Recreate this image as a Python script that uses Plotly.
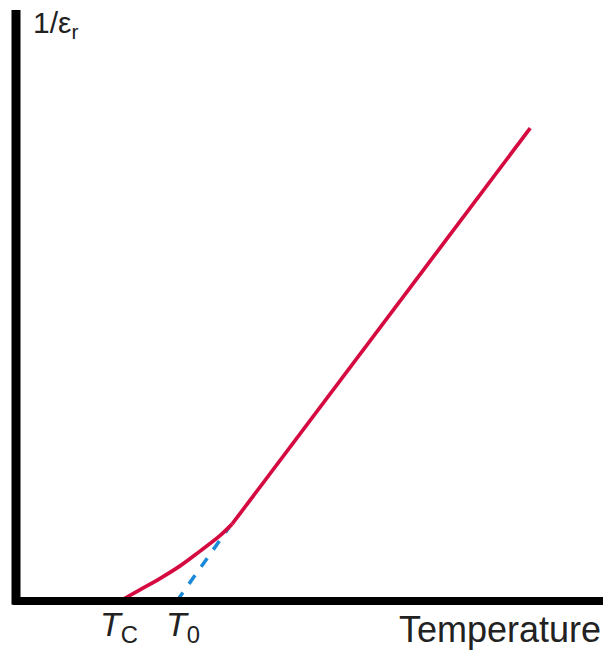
import plotly.graph_objects as go

# reciprocal permittivity vs temperature (arbitrary units)
# curved part just above T_C, then the straight Curie-Weiss part
curve_t = [17.7, 21.1, 24.5, 27.9, 31.3, 34.8, 36.8]
curve_inv_eps = [0.0, 1.9, 3.8, 5.9, 8.4, 11.1, 13.0]
line_t = [36.8, 87.6]
line_inv_eps = [13.0, 80.0]
# extrapolation of the straight part down to T_0
extrap_t = [27.4, 36.4]
extrap_inv_eps = [0.0, 12.6]

RED = "#d50a40"
BLUE = "#1a8ad8"
FONT = "Liberation Sans"

fig = go.Figure()
fig.add_scatter(x=extrap_t, y=extrap_inv_eps, mode="lines",
                line=dict(color=BLUE, width=3.5, dash="dash"), hoverinfo="skip")
fig.add_scatter(x=curve_t, y=curve_inv_eps, mode="lines",
                line=dict(color=RED, width=3.7, shape="spline", smoothing=1.0), hoverinfo="skip")
fig.add_scatter(x=line_t, y=line_inv_eps, mode="lines",
                line=dict(color=RED, width=3.7), hoverinfo="skip")

# thick axes
fig.add_shape(type="line", xref="paper", yref="paper", x0=0, x1=0, y0=-0.006, y1=1,
              line=dict(color="black", width=9))
fig.add_shape(type="line", xref="paper", yref="paper", x0=-0.006, x1=1, y0=0, y1=0,
              line=dict(color="black", width=8))

fig.add_annotation(x=2.6, y=1.01, yref="paper", xanchor="left", yanchor="top", showarrow=False,
                   text="1/ε<sub>r</sub>", font=dict(family=FONT, size=30, color="#222"))
for t, lab in [(17.5, "<i>T</i><sub>C</sub>"), (28.4, "<i>T</i><sub>0</sub>")]:
    fig.add_annotation(x=t, y=-0.004, yref="paper", xanchor="center", yanchor="top",
                       showarrow=False, text=lab, font=dict(family=FONT, size=34, color="#222"))
fig.add_annotation(x=100, y=-0.01, yref="paper", xanchor="right", yanchor="top", showarrow=False,
                   text="Temperature", font=dict(family=FONT, size=36, color="#222"))

fig.update_xaxes(range=[0, 100], visible=False)
fig.update_yaxes(range=[0, 100], visible=False)
fig.update_layout(
    width=609, height=652,
    margin=dict(l=16, r=6, t=10, b=51),
    plot_bgcolor="white", paper_bgcolor="white",
    showlegend=False,
)
fig.write_html("out.html", config={"displayModeBar": False},
               post_script="document.body.style.margin='0';")
